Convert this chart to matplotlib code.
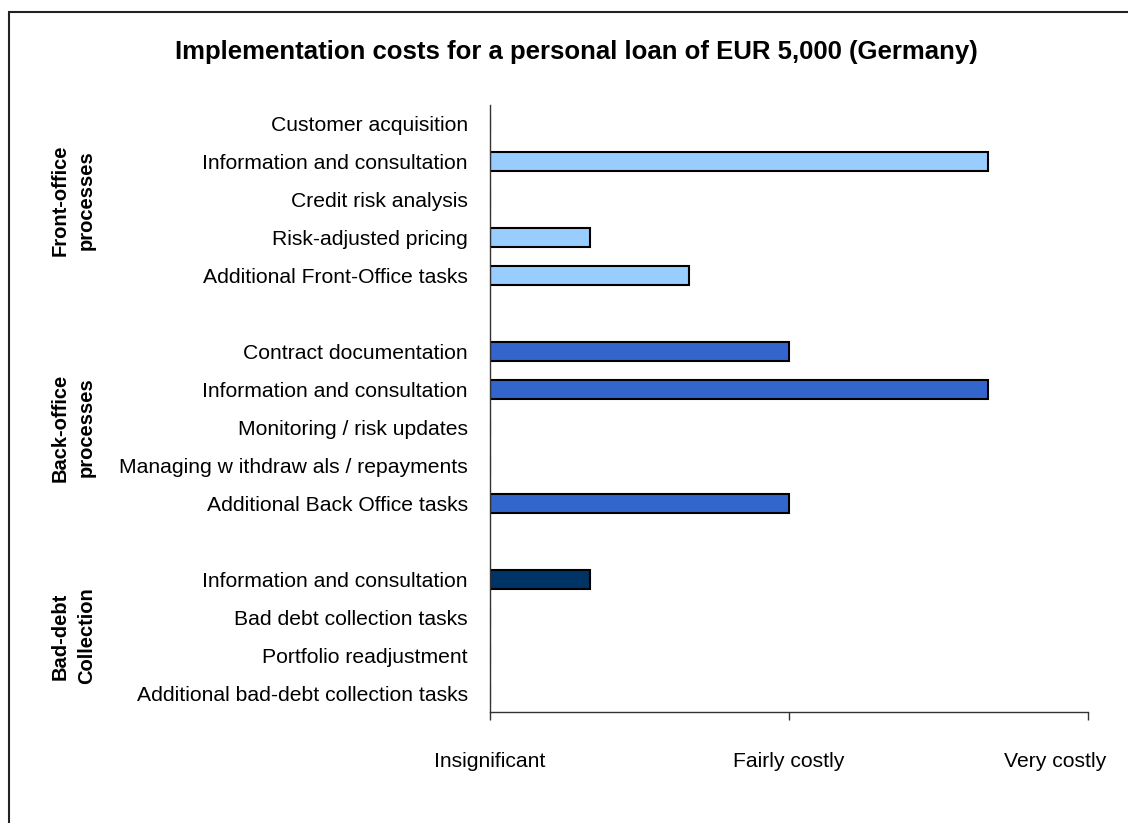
import matplotlib.pyplot as plt
import matplotlib.transforms as mtransforms
from matplotlib.patches import Rectangle

plt.rcParams['font.family'] = ['Liberation Sans', 'DejaVu Sans']

# data
front_labels = ['Customer acquisition', 'Information and consultation', 'Credit risk analysis',
                'Risk-adjusted pricing', 'Additional Front-Office tasks']
front_values = [0, 5, 0, 1, 2]
back_labels = ['Contract documentation', 'Information and consultation', 'Monitoring / risk updates',
               'Managing w ithdraw als / repayments', 'Additional Back Office tasks']
back_values = [3, 5, 0, 0, 3]
bad_labels = ['Information and consultation', 'Bad debt collection tasks', 'Portfolio readjustment',
              'Additional bad-debt collection tasks']
bad_values = [1, 0, 0, 0]
group_names = ['Front-office\nprocesses', 'Back-office\nprocesses', 'Bad-debt\nCollection']
group_colors = ['#99CCFF', '#3366CC', '#003366']
x_ticks = [0, 3, 6]
x_ticklabels = ['Insignificant', 'Fairly costly', 'Very costly']

groups = [(front_labels, front_values), (back_labels, back_values), (bad_labels, bad_values)]

fig = plt.figure(figsize=(11.28, 8.23), dpi=100)
fig.patches.append(Rectangle((9 / 1128, -0.1), 1.2, 1.1 - 12 / 823, transform=fig.transFigure,
                             fill=False, edgecolor='#222222', linewidth=1.5))
ax = fig.add_axes([490 / 1128, 1 - 712 / 823, 598 / 1128, 607 / 823])
blend = mtransforms.blended_transform_factory(fig.transFigure, ax.transData)

pos = 0
ticks, labels = [], []
for (labs, vals), name, col in zip(groups, group_names, group_colors):
    ys = list(range(pos, pos + len(labs)))
    ax.barh(ys, vals, height=0.5, color=col, edgecolor='black', linewidth=1.5)
    ticks += ys
    labels += labs
    mid = (ys[0] + ys[-1]) / 2
    ax.text(73 / 1128, mid, name, transform=blend, linespacing=1.5,
            ha='center', va='center', rotation=90, fontsize=14.5, fontweight='bold')
    pos += len(labs) + 1

ax.set_ylim(pos - 1.5, -0.5)
ax.set_xlim(0, 6)
ax.set_yticks(ticks)
ax.set_yticklabels(labels, fontsize=15.2)
ax.tick_params(axis='y', length=0, pad=16)
ax.set_xticks(x_ticks)
ax.set_xticklabels(x_ticklabels, fontsize=15.2)
ax.tick_params(axis='x', direction='out', length=6, width=1, pad=23, color='#333333')
last = ax.get_xticklabels()[-1]
last.set_transform(last.get_transform() + mtransforms.ScaledTranslation(-33 / 100, 0, fig.dpi_scale_trans))

for s in ['top', 'right']:
    ax.spines[s].set_visible(False)
for s in ['left', 'bottom']:
    ax.spines[s].set_color('#333333')
    ax.spines[s].set_linewidth(1)

fig.text(576 / 1128, 1 - 52 / 823, 'Implementation costs for a personal loan of EUR 5,000 (Germany)',
         ha='center', va='center', fontsize=18.5, fontweight='bold')

fig.savefig('out.png', dpi=100)
